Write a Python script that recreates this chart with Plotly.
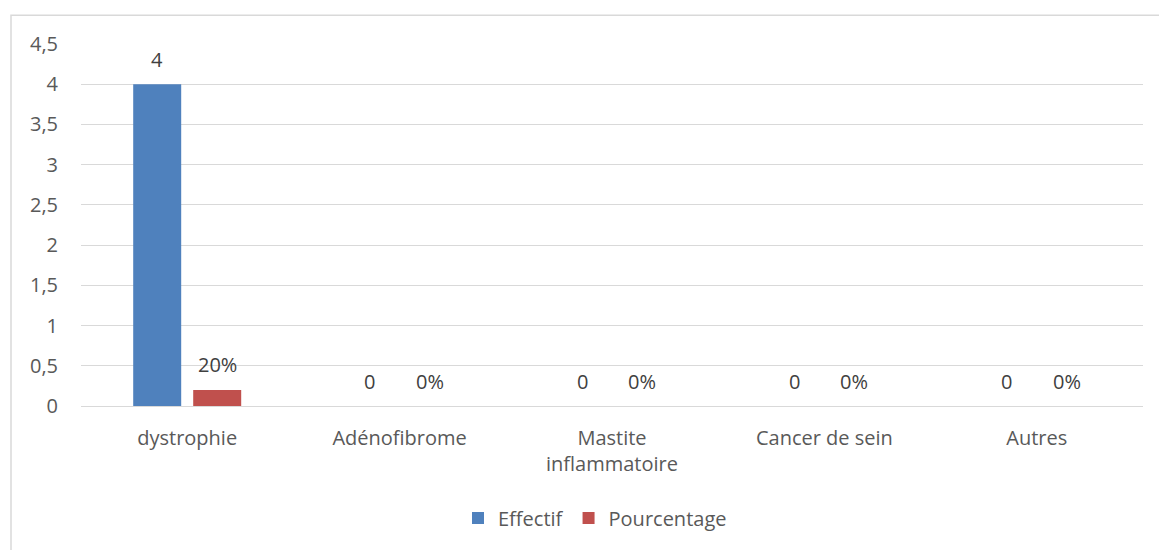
import plotly.graph_objects as go

categories = ["dystrophie", "Adénofibrome", "Mastite<br>inflammatoire", "Cancer de sein", "Autres"]
effectif = [4, 0, 0, 0, 0]
pourcentage = [0.20, 0, 0, 0, 0]
y_ticks = [0, 0.5, 1, 1.5, 2, 2.5, 3, 3.5, 4, 4.5]

FONT = "Open Sans, Carlito, Liberation Sans, sans-serif"
GREY = "#595959"
LABEL = "#404040"
FS = 20

fig = go.Figure()
fig.add_trace(go.Bar(
    name="Effectif", x=categories, y=effectif,
    marker=dict(color="#4f81bd", line=dict(width=0)),
))
fig.add_trace(go.Bar(
    name="Pourcentage", x=categories, y=pourcentage,
    marker=dict(color="#c0504d", line=dict(width=0)),
))

W, H = 1159, 550
L, R, T, B = 81, 16, 44, 141
pw, ph = W - L - R, H - T - B

def px_x(p):
    return (p - L) / pw

def px_y(p):
    return (H - B - p) / ph

# value labels above each bar of the group
annotations = []
for cat, e, p in zip(categories, effectif, pourcentage):
    annotations.append(dict(x=cat, y=e, text=f"{e:g}", showarrow=False,
                            xshift=-30, yshift=25, yanchor="middle",
                            font=dict(size=FS, color=LABEL, family=FONT)))
    annotations.append(dict(x=cat, y=p, text=f"{p:.0%}", showarrow=False,
                            xshift=30, yshift=25, yanchor="middle",
                            font=dict(size=FS, color=LABEL, family=FONT)))

fig.update_layout(
    width=W, height=H,
    margin=dict(l=L, r=R, t=T, b=B),
    paper_bgcolor="white", plot_bgcolor="white",
    separators=", ",
    barmode="group", bargap=0.435, bargroupgap=0.2,
    font=dict(family=FONT, color=GREY, size=FS),
    showlegend=True,
    legend=dict(orientation="h", x=px_x(458), xanchor="left", y=px_y(522), yanchor="middle",
                font=dict(size=FS, color=GREY), traceorder="normal",
                itemwidth=30, tracegroupgap=0),
    annotations=annotations,
    xaxis=dict(showgrid=False, showline=False, ticks="", tickfont=dict(size=FS, color=GREY),
               ticklabelstandoff=18),
    yaxis=dict(range=[0, 4.5], tickvals=y_ticks, tickformat=",.1~f",
               showgrid=True, gridcolor="#d9d9d9", gridwidth=1,
               zeroline=True, zerolinecolor="#d9d9d9", zerolinewidth=1,
               showline=False, ticks="", tickfont=dict(size=FS, color=GREY),
               ticklabelstandoff=22),
    shapes=[dict(type="rect", xref="paper", yref="paper",
                 x0=px_x(11), x1=px_x(1170), y0=px_y(560), y1=px_y(15),
                 line=dict(color="#d9d9d9", width=1.5), fillcolor="rgba(0,0,0,0)",
                 layer="below")],
)

fig.write_html("out.html")
